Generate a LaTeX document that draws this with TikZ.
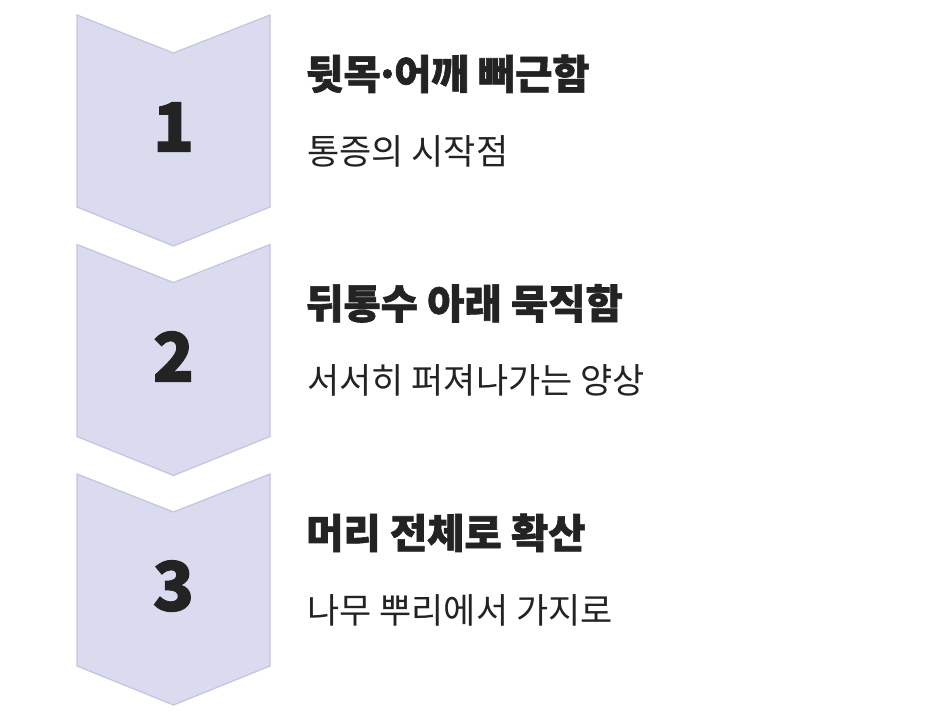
\documentclass[tikz,border=0pt]{standalone}
\usepackage{fontspec}
\setmainfont{Noto Sans CJK KR}
\newfontfamily\kofont[BoldFeatures={FakeBold=1.5}]{Noto Sans CJK KR}
\usetikzlibrary{positioning}

\definecolor{chevfill}{HTML}{DADBEF}
\definecolor{chevline}{HTML}{C3C5DF}
\definecolor{inkdark}{HTML}{232323}

\begin{document}
\begin{tikzpicture}[
			x=1pt, y=-1pt,
			chevron/.style={fill=chevfill, draw=chevline, line width=1.2pt, line join=miter},
			stepnum/.style={font=\kofont\bfseries\fontsize{68}{68}\selectfont, text=inkdark, inner sep=0pt},
			heading/.style={font=\kofont\bfseries\fontsize{40.5}{40.5}\selectfont, text=inkdark, anchor=west, inner sep=0pt},
			remark/.style={font=\kofont\fontsize{35}{35}\selectfont, text=inkdark, anchor=west, inner sep=0pt}
			]
			\useasboundingbox (0,0) rectangle (948,718);
			% three chevrons
			\foreach \top/\num in {15/1, 244.5/2, 474/3} {
				\draw[chevron] (77,\top) -- (173.5,\top+38) -- (270,\top) -- (270,\top+192)
					-- (173.5,\top+231) -- (77,\top+192) -- cycle;
				\node[stepnum] (num\num) at (173.5,\top+112) {\num};
			}
			\node[heading] (head1) at (306,78) {뒷목\kern-0.14em·\kern-0.14em어깨 뻐근함\strut};
			\node[remark] (note1) at (307,155) {통증의 시작점\strut};
			\node[heading] (head2) at (306,307.5) {뒤통수 아래 묵직함\strut};
			\node[remark] (note2) at (307,384.5) {서서히 퍼져나가는 양상\strut};
			\node[heading] (head3) at (306,537) {머리 전체로 확산\strut};
			\node[remark] (note3) at (307,614) {나무 뿌리에서 가지로\strut};
		\end{tikzpicture}
\end{document}
